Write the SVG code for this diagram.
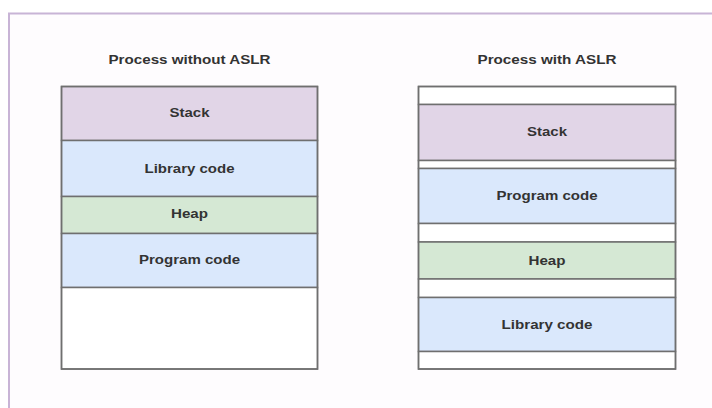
<svg xmlns="http://www.w3.org/2000/svg" width="712" height="408" viewBox="0 0 712 408">
  <style>
    .frame { fill: #fefcfe; stroke: #c8b4d6; stroke-width: 2; }
    .seg { stroke: #6f6f6f; stroke-width: 1.5; }
    .outline { fill: none; stroke: #6f6f6f; stroke-width: 1.5; }
    .empty { fill: #ffffff; }
    .purple { fill: #e1d5e7; }
    .blue { fill: #dae8fc; }
    .green { fill: #d5e8d4; }
    text { font-family: "Liberation Sans", Arial, sans-serif; font-size: 12px; font-weight: bold; fill: #333333; text-anchor: middle; }
  </style>

  <!-- page frame, continuing past the right and bottom edges -->
  <rect class="frame" x="9" y="13.5" width="720" height="420"/>

  <!-- left column: fixed layout -->
  <g id="title-without">
    <text x="189.5" y="64" textLength="162" lengthAdjust="spacingAndGlyphs">Process without ASLR</text>
  </g>
  <g id="left-stack">
    <rect class="seg purple" x="61.5" y="86.5" width="256" height="54"/>
    <text x="189.5" y="117" textLength="40" lengthAdjust="spacingAndGlyphs">Stack</text>
  </g>
  <g id="left-library">
    <rect class="seg blue" x="61.5" y="140.5" width="256" height="56"/>
    <text x="189.5" y="172.5" textLength="90" lengthAdjust="spacingAndGlyphs">Library code</text>
  </g>
  <g id="left-heap">
    <rect class="seg green" x="61.5" y="196.5" width="256" height="37"/>
    <text x="189.5" y="218" textLength="37" lengthAdjust="spacingAndGlyphs">Heap</text>
  </g>
  <g id="left-program">
    <rect class="seg blue" x="61.5" y="233.5" width="256" height="54"/>
    <text x="189.5" y="263.5" textLength="101" lengthAdjust="spacingAndGlyphs">Program code</text>
  </g>
  <g id="left-free">
    <rect class="seg empty" x="61.5" y="287.5" width="256" height="81.5"/>
  </g>
  <rect class="outline" x="61.5" y="86.5" width="256" height="282.5"/>

  <!-- right column: randomized layout -->
  <g id="title-with">
    <text x="547" y="64" textLength="139" lengthAdjust="spacingAndGlyphs">Process with ASLR</text>
  </g>
  <g id="right-gap-1">
    <rect class="seg empty" x="418.5" y="86.5" width="257" height="18"/>
  </g>
  <g id="right-stack">
    <rect class="seg purple" x="418.5" y="104.5" width="257" height="56"/>
    <text x="547" y="136" textLength="40" lengthAdjust="spacingAndGlyphs">Stack</text>
  </g>
  <g id="right-gap-2">
    <rect class="seg empty" x="418.5" y="160.5" width="257" height="8"/>
  </g>
  <g id="right-program">
    <rect class="seg blue" x="418.5" y="168.5" width="257" height="55"/>
    <text x="547" y="200" textLength="101" lengthAdjust="spacingAndGlyphs">Program code</text>
  </g>
  <g id="right-gap-3">
    <rect class="seg empty" x="418.5" y="223.5" width="257" height="18.5"/>
  </g>
  <g id="right-heap">
    <rect class="seg green" x="418.5" y="242" width="257" height="37"/>
    <text x="547" y="264.5" textLength="37" lengthAdjust="spacingAndGlyphs">Heap</text>
  </g>
  <g id="right-gap-4">
    <rect class="seg empty" x="418.5" y="279" width="257" height="18.5"/>
  </g>
  <g id="right-library">
    <rect class="seg blue" x="418.5" y="297.5" width="257" height="54"/>
    <text x="547" y="328.5" textLength="91" lengthAdjust="spacingAndGlyphs">Library code</text>
  </g>
  <g id="right-gap-5">
    <rect class="seg empty" x="418.5" y="351.5" width="257" height="17.5"/>
  </g>
  <rect class="outline" x="418.5" y="86.5" width="257" height="282.5"/>
</svg>
